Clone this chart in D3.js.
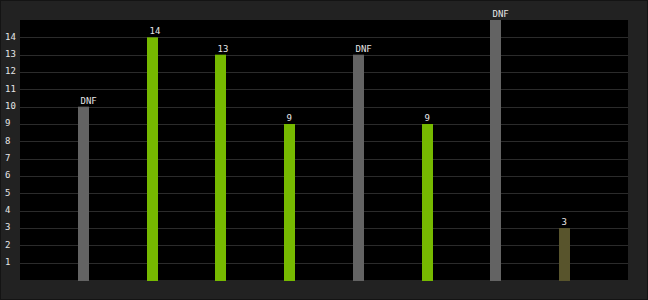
<!DOCTYPE html>
<meta charset="utf-8">
<style>
body { margin: 0; background: #222; }
svg { display: block; }
.tick text, .label {
  font: 9px "DejaVu Sans Mono", monospace;
  fill: #e6e6e6;
}
</style>
<svg width="648" height="300"></svg>
<script src="https://cdn.jsdelivr.net/npm/d3@7"></script>
<script>

// one bar per run, DNF runs are drawn grey and labelled "DNF"
var runs = ["r1", "r2", "r3", "r4", "r5", "r6", "r7", "r8"];
var values = [10, 14, 13, 9, 13, 9, 15, 3];
var labels = ["DNF", "14", "13", "9", "DNF", "9", "DNF", "3"];
var kinds = ["dnf", "ok", "ok", "ok", "dnf", "ok", "dnf", "low"];
var yTicks = [1, 2, 3, 4, 5, 6, 7, 8, 9, 10, 11, 12, 13, 14];

var colors = { dnf: "#636363", ok: "#76b900", low: "#58542c" };

var svg = d3.select("svg"),
    W = +svg.attr("width"),
    H = +svg.attr("height"),
    plotL = 20, plotR = 628, plotT = 20, plotB = 280;

svg.append("rect")
    .attr("x", 0.5).attr("y", 0.5)
    .attr("width", W - 1).attr("height", H - 1)
    .attr("fill", "#222").attr("stroke", "#141414");

svg.append("rect")
    .attr("x", plotL).attr("y", plotT)
    .attr("width", plotR - plotL).attr("height", plotB - plotT)
    .attr("fill", "#000");

var x = d3.scalePoint()
    .domain(runs)
    .range([plotL, plotR])
    .padding(0.925);

var y = d3.scaleLinear()
    .domain([0, 15])
    .range([plotB, plotT]);

// grid
svg.append("g")
  .selectAll("line")
  .data(yTicks)
  .enter().append("line")
    .attr("x1", plotL).attr("x2", plotR)
    .attr("y1", function(d) { return Math.round(y(d)) + 0.5; })
    .attr("y2", function(d) { return Math.round(y(d)) + 0.5; })
    .attr("stroke", "#2b2b2b");

// y axis labels
var yAxis = svg.append("g")
    .attr("transform", "translate(5,0)")
    .call(d3.axisLeft(y).tickValues(yTicks).tickSize(0).tickPadding(0));
yAxis.select(".domain").remove();
yAxis.selectAll("text")
    .attr("text-anchor", "start")
    .attr("dy", "0.2em");

var bw = 11;
function barX(i) { return Math.round(x(runs[i]) - bw / 2); }

svg.append("g")
  .selectAll("rect")
  .data(values)
  .enter().append("rect")
    .attr("x", function(d, i) { return barX(i); })
    .attr("y", function(d) { return y(d); })
    .attr("width", bw)
    .attr("height", function(d) { return plotB + 1 - y(d); })
    .attr("fill", function(d, i) { return colors[kinds[i]]; });

// labels start a little right of the bar's left edge, as in the original
svg.append("g")
  .selectAll("text")
  .data(values)
  .enter().append("text")
    .attr("class", "label")
    .attr("x", function(d, i) { return barX(i) + 2.5; })
    .attr("y", function(d) { return y(d) - 3; })
    .text(function(d, i) { return labels[i]; });

</script>
